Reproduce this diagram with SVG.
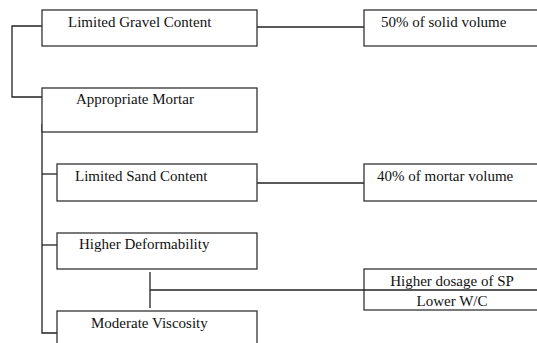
<svg xmlns="http://www.w3.org/2000/svg" width="537" height="343" viewBox="0 0 537 343">
<style>
.box{fill:#fff;stroke:#333;stroke-width:1.3}
.ln{fill:none;stroke:#222;stroke-width:1.3}
text{font-family:"Liberation Serif","Times New Roman",serif;font-size:15px;fill:#111}
</style>
<rect width="537" height="343" fill="#fff"/>
<g id="connectors">
<path class="ln" d="M42,26 H12 V97 H42"/>
<path class="ln" d="M42,124 V333 H57"/>
<path class="ln" d="M257,27 H364"/>
<path class="ln" d="M42,174 H57"/>
<path class="ln" d="M42,245 H57"/>
<path class="ln" d="M257,183 H364"/>
<path class="ln" d="M150,272 V308"/>
<path class="ln" d="M150,290 H537"/>
</g>
<g id="gravel"><rect class="box" x="42" y="10" width="215" height="36"/><text x="68" y="27">Limited Gravel Content</text></g>
<g id="solid"><rect class="box" x="364" y="10" width="180" height="36"/><text x="381" y="27">50% of solid volume</text></g>
<g id="mortar"><rect class="box" x="42" y="88" width="215" height="44"/><text x="76" y="104">Appropriate Mortar</text></g>
<g id="sand"><rect class="box" x="57" y="164" width="200" height="37"/><text x="75" y="181">Limited Sand Content</text></g>
<g id="mortarvol"><rect class="box" x="364" y="164" width="180" height="37"/><text x="377" y="181">40% of mortar volume</text></g>
<g id="deform"><rect class="box" x="57" y="233" width="200" height="36"/><text x="79" y="249">Higher Deformability</text></g>
<g id="sp"><rect class="box" x="364" y="269" width="180" height="41"/><line class="ln" x1="364" y1="290" x2="537" y2="290"/><text x="452" y="286" text-anchor="middle">Higher dosage of SP</text><text x="452" y="306" text-anchor="middle">Lower W/C</text></g>
<g id="viscosity"><rect class="box" x="57" y="311" width="200" height="40"/><text x="91" y="328">Moderate Viscosity</text></g>
</svg>
